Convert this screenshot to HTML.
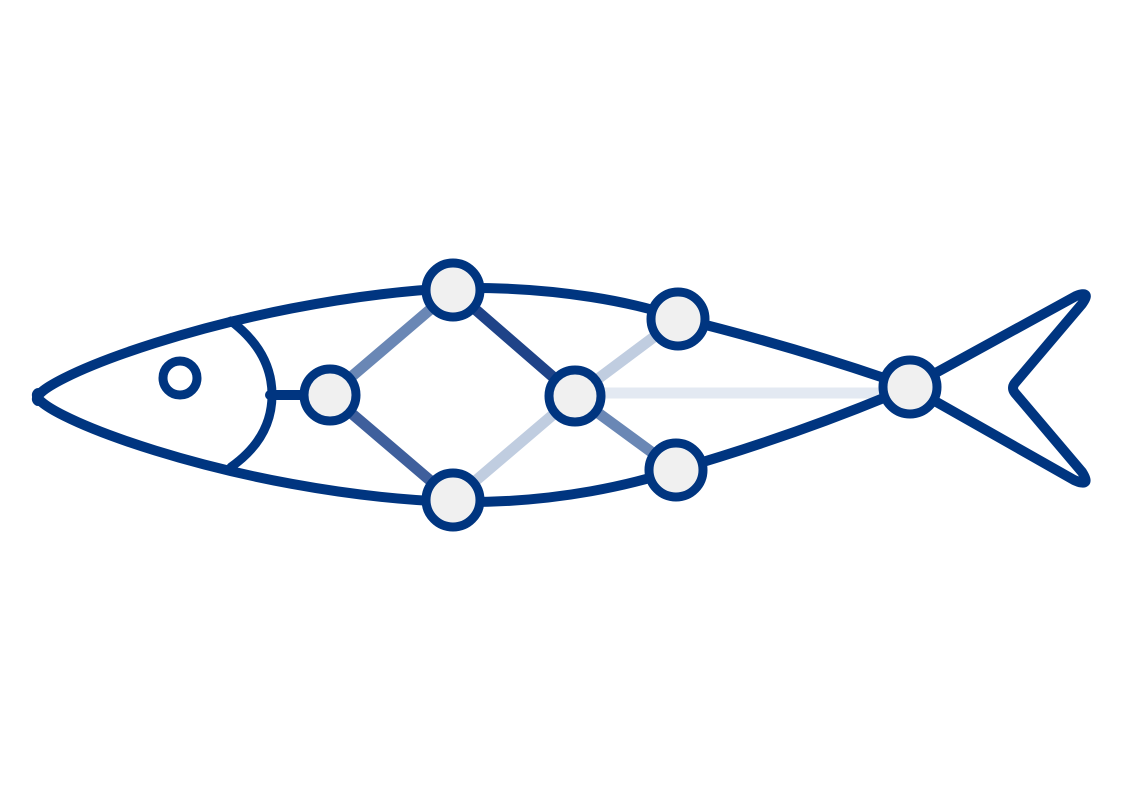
<!DOCTYPE html>
<html><head><meta charset="utf-8"><style>
html,body{margin:0;padding:0;background:#fff;}
svg{display:block;}
</style></head><body>
<svg width="1123" height="794" viewBox="0 0 1123 794">
  <g fill="none" stroke-linecap="round" stroke-linejoin="round">
    <line x1="575" y1="393" x2="910" y2="393" stroke="#e3e9f2" stroke-width="11"/>
    <line x1="330" y1="395" x2="453" y2="290" stroke="#6a87b5" stroke-width="11"/>
    <line x1="330" y1="395" x2="453" y2="500" stroke="#3f5f9c" stroke-width="11"/>
    <line x1="453" y1="290" x2="575" y2="396" stroke="#1f4388" stroke-width="11"/>
    <line x1="453" y1="500" x2="575" y2="396" stroke="#c0cde0" stroke-width="11"/>
    <line x1="575" y1="396" x2="678" y2="319" stroke="#c0cde0" stroke-width="11"/>
    <line x1="575" y1="396" x2="676" y2="470" stroke="#6a87b5" stroke-width="11"/>
    <line x1="270" y1="395" x2="330" y2="395" stroke="#003580" stroke-width="10"/>
    <path d="M38,401 C20,385 230,300 453,288 C560,286 640,304 678,318 Q800,348 910,387" stroke="#003580" stroke-width="10"/>
    <path d="M38,393 C20,409 230,494 453,502 C560,504 640,482 676,470 Q800,434 910,387" stroke="#003580" stroke-width="10"/>
    <path d="M910,387 L1076,296 Q1092,290 1082,304 L1015,383 Q1011,388 1015,393 L1082,472 Q1092,488 1074,480 Z" stroke="#003580" stroke-width="10"/>
    <path d="M231,321 Q272,352 272,395 Q272,438 231,467" stroke="#003580" stroke-width="9"/>
    <circle cx="180" cy="378" r="17" stroke="#003580" stroke-width="9"/>
  </g>
  <g fill="#f0f0f0" stroke="#003580" stroke-width="9">
    <circle cx="330" cy="395" r="26"/>
    <circle cx="453" cy="290" r="27"/>
    <circle cx="453" cy="500" r="27"/>
    <circle cx="575" cy="396" r="26"/>
    <circle cx="678" cy="319" r="27"/>
    <circle cx="676" cy="470" r="27"/>
    <circle cx="910" cy="387" r="27"/>
  </g>
</svg>
</body></html>
